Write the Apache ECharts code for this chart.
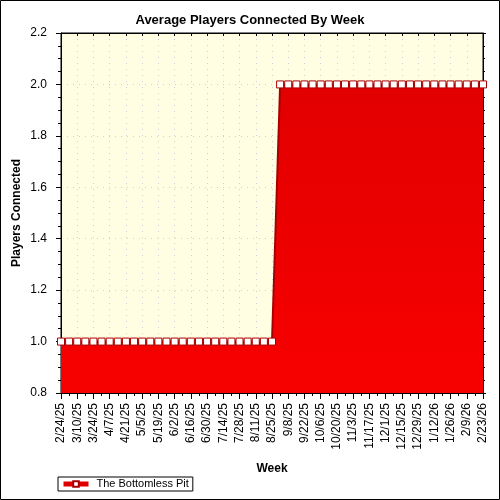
<!DOCTYPE html>
<html>
<head>
<meta charset="utf-8">
<script src="https://cdn.jsdelivr.net/npm/echarts@6/dist/echarts.min.js"></script>
<style>
  html, body { margin: 0; padding: 0; background: #fff; }
  #chart { width: 500px; height: 500px; }
</style>
</head>
<body>
<div id="chart"></div>
<script>
// weekly categories (every week, labels shown every other week)
var weeks = [
    '2/24/25', '3/3/25', '3/10/25', '3/17/25', '3/24/25', '3/31/25', '4/7/25', '4/14/25',
    '4/21/25', '4/28/25', '5/5/25', '5/12/25', '5/19/25', '5/26/25', '6/2/25', '6/9/25',
    '6/16/25', '6/23/25', '6/30/25', '7/7/25', '7/14/25', '7/21/25', '7/28/25', '8/4/25',
    '8/11/25', '8/18/25', '8/25/25', '9/1/25', '9/8/25', '9/15/25', '9/22/25', '9/29/25',
    '10/6/25', '10/13/25', '10/20/25', '10/27/25', '11/3/25', '11/10/25', '11/17/25', '11/24/25',
    '12/1/25', '12/8/25', '12/15/25', '12/22/25', '12/29/25', '1/5/26', '1/12/26', '1/19/26',
    '1/26/26', '2/2/26', '2/9/26', '2/16/26', '2/23/26'
];
var seriesName = 'The Bottomless Pit';
var avgPlayers = [
    1, 1, 1, 1, 1, 1, 1, 1, 1, 1, 1, 1, 1, 1, 1, 1,
    1, 1, 1, 1, 1, 1, 1, 1, 1, 1, 1, 2, 2, 2, 2, 2,
    2, 2, 2, 2, 2, 2, 2, 2, 2, 2, 2, 2, 2, 2, 2, 2,
    2, 2, 2, 2, 2
];
var yMin = 0.8, yMax = 2.2, yStep = 0.2;

var font = 'Liberation Sans';
var chart = echarts.init(document.getElementById('chart'));

chart.setOption({
    backgroundColor: '#fff',
    animation: false,
    title: {
        text: 'Average Players Connected By Week',
        left: 'center',
        top: 9,
        textStyle: { fontFamily: font, fontSize: 13, fontWeight: 'bold', color: '#000' }
    },
    legend: {
        left: 58,
        top: 477,
        padding: [1, 4, 1, 3],
        borderColor: '#000',
        borderWidth: 1,
        itemWidth: 25,
        itemHeight: 7,
        itemGap: 4,
        lineStyle: { width: 5, color: '#e00000' },
        textStyle: { fontFamily: font, fontSize: 11, color: '#000', lineHeight: 12, padding: [0, 0, 0, 3] },
        data: [seriesName]
    },
    grid: {
        left: 61,
        right: 17,
        top: 33,
        bottom: 107,
        show: true,
        backgroundColor: '#fffee3',
        borderColor: '#000',
        borderWidth: 1
    },
    xAxis: [
        {
            type: 'category',
            data: weeks,
            boundaryGap: false,
            name: 'Week',
            nameLocation: 'middle',
            nameGap: 70,
            nameMoveOverlap: false,
            nameTextStyle: { fontFamily: font, fontSize: 12, fontWeight: 'bold', color: '#000' },
            axisLine: { lineStyle: { color: '#000' } },
            axisTick: { interval: 1, length: 6, lineStyle: { color: '#000' } },
            axisLabel: {
                interval: 1,
                rotate: 90,
                margin: 10,
                fontFamily: font,
                fontSize: 12,
                color: '#000'
            },
            splitLine: {
                show: true,
                interval: 1,
                lineStyle: { color: '#cfcfdc', type: [1, 5] }
            }
        },
        {
            type: 'category',
            data: weeks,
            boundaryGap: false,
            position: 'bottom',
            axisLine: { show: false },
            axisTick: { interval: 0, length: 3, lineStyle: { color: '#000' } },
            axisLabel: { show: false },
            splitLine: { show: false }
        },
        {
            type: 'category',
            data: weeks,
            boundaryGap: false,
            position: 'top',
            axisLine: { lineStyle: { color: '#000' } },
            axisTick: { interval: 1, inside: true, length: 3, lineStyle: { color: '#000' } },
            axisLabel: { show: false },
            splitLine: { show: false }
        }
    ],
    yAxis: [
        {
            type: 'value',
            min: yMin,
            max: yMax,
            interval: yStep,
            name: 'Players Connected',
            nameLocation: 'middle',
            nameGap: 38,
            nameMoveOverlap: false,
            nameTextStyle: { fontFamily: font, fontSize: 12, fontWeight: 'bold', color: '#000' },
            axisLine: { show: true, lineStyle: { color: '#000' } },
            axisTick: { show: true, length: 5, lineStyle: { color: '#000' } },
            minorTick: { show: true, splitNumber: 4, length: 3, lineStyle: { color: '#000' } },
            axisLabel: {
                margin: 14,
                fontFamily: font,
                fontSize: 12,
                color: '#000',
                formatter: function (v) { return v.toFixed(1); }
            },
            splitLine: { show: true, lineStyle: { color: '#cfcfdc', type: [1, 5] } }
        },
        {
            type: 'value',
            min: yMin,
            max: yMax,
            interval: yStep,
            position: 'right',
            axisLine: { show: true, lineStyle: { color: '#000' } },
            axisTick: { show: true, length: 3, lineStyle: { color: '#000' } },
            minorTick: { show: true, splitNumber: 4, length: 2, lineStyle: { color: '#000' } },
            axisLabel: { show: false },
            splitLine: { show: false }
        }
    ],
    series: [
        {
            name: seriesName,
            type: 'line',
            data: avgPlayers,
            symbol: 'rect',
            symbolSize: 7,
            showAllSymbol: true,
            itemStyle: { color: '#fff', borderColor: '#a80000', borderWidth: 1 },
            lineStyle: { color: '#a80000', width: 2 },
            areaStyle: {
                origin: 'start',
                opacity: 1,
                color: new echarts.graphic.LinearGradient(0, 0, 0, 1, [
                    { offset: 0, color: '#e20000' },
                    { offset: 1, color: '#f80000' }
                ])
            }
        }
    ],
    graphic: [
        {
            type: 'rect',
            shape: { x: 0.5, y: 0.5, width: 499, height: 499 },
            style: { fill: null, stroke: '#000', lineWidth: 1 },
            silent: true
        }
    ]
});
</script>
</body>
</html>
